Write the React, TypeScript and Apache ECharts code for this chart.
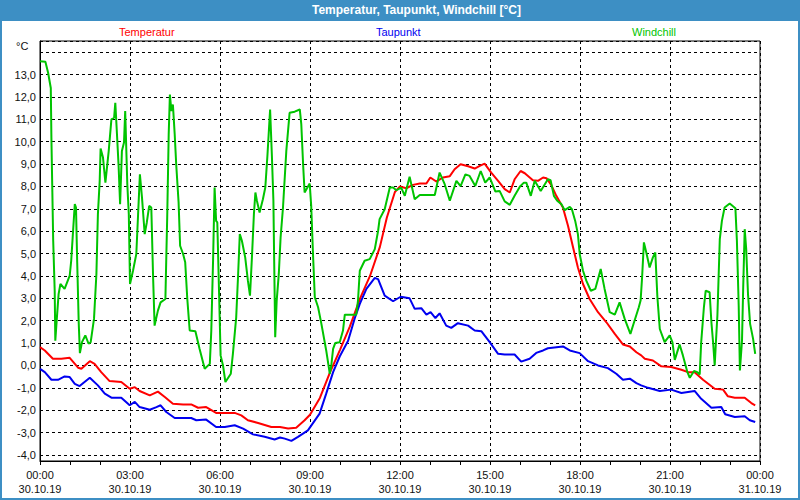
import React, { useEffect, useRef } from 'react';
import * as echarts from 'echarts';

const FONT = 'Liberation Sans';

const titleText = 'Temperatur, Taupunkt, Windchill [°C]';
const seriesNames = ['Temperatur', 'Taupunkt', 'Windchill'];
const seriesColors = ['#ff0000', '#0000f0', '#00c400'];
const timeLabels = ['00:00', '03:00', '06:00', '09:00', '12:00', '15:00', '18:00', '21:00', '00:00'];
const dateLabels = ['30.10.19', '30.10.19', '30.10.19', '30.10.19', '30.10.19', '30.10.19', '30.10.19', '30.10.19', '31.10.19'];
const yUnit = '°C';

// hours since 30.10.19 00:00
const tempTimes = [0, 0.16, 0.43, 0.71, 0.99, 1.27, 1.38, 1.66, 1.82, 2.04, 2.32, 2.71, 2.99, 3.16, 3.32, 3.66, 3.93, 4.16, 4.43, 4.77, 5.04, 5.27, 5.54, 5.87, 6.49, 6.71, 6.93, 7.27, 7.71, 8.0, 8.27, 8.54, 8.82, 9.0, 9.33, 9.67, 10.0, 10.33, 10.67, 11.0, 11.33, 11.56, 11.83, 12.0, 12.21, 12.43, 12.66, 12.88, 13.01, 13.21, 13.43, 13.66, 13.82, 14.02, 14.27, 14.49, 14.66, 14.82, 15.04, 15.27, 15.49, 15.66, 15.82, 16.02, 16.16, 16.43, 16.6, 16.77, 16.88, 17.04, 17.21, 17.43, 17.6, 17.77, 17.93, 18.1, 18.32, 18.6, 18.88, 19.16, 19.43, 19.66, 19.88, 20.04, 20.16, 20.43, 20.71, 21.04, 21.38, 21.6, 21.82, 22.1, 22.49, 22.77, 22.93, 23.16, 23.49, 23.71, 23.84];
const tempValues = [0.82, 0.67, 0.3, 0.3, 0.34, -0.1, -0.15, 0.19, 0.07, -0.3, -0.7, -0.74, -1.04, -0.97, -1.14, -1.34, -1.17, -1.41, -1.71, -1.74, -1.74, -1.89, -1.86, -2.12, -2.12, -2.23, -2.45, -2.57, -2.75, -2.75, -2.82, -2.78, -2.45, -2.2, -1.45, -0.3, 0.7, 1.75, 3.0, 4.0, 5.3, 6.6, 7.75, 8.0, 7.92, 8.07, 8.13, 8.13, 8.4, 8.22, 8.4, 8.46, 8.77, 8.99, 8.9, 8.8, 8.92, 9.02, 8.62, 8.25, 7.88, 7.73, 8.32, 8.69, 8.59, 8.28, 8.25, 8.4, 8.37, 8.07, 7.58, 7.06, 6.24, 5.27, 4.38, 3.64, 2.97, 2.38, 1.93, 1.41, 0.94, 0.85, 0.59, 0.45, 0.3, 0.22, -0.04, -0.07, -0.19, -0.3, -0.3, -0.64, -1.04, -1.08, -1.38, -1.44, -1.44, -1.68, -1.78];

const dewTimes = [0, 0.16, 0.38, 0.6, 0.82, 0.99, 1.16, 1.32, 1.66, 1.93, 2.16, 2.38, 2.71, 2.99, 3.16, 3.32, 3.66, 3.88, 4.02, 4.21, 4.49, 5.04, 5.21, 5.54, 5.87, 6.16, 6.49, 6.77, 7.1, 7.49, 7.82, 8.0, 8.16, 8.38, 8.6, 8.93, 9.32, 9.54, 9.77, 9.99, 10.27, 10.49, 10.66, 10.88, 11.16, 11.27, 11.49, 11.77, 12.02, 12.32, 12.49, 12.71, 12.88, 13.02, 13.18, 13.32, 13.54, 13.71, 13.93, 14.27, 14.49, 14.71, 14.99, 15.27, 15.49, 15.82, 16.04, 16.32, 16.54, 16.77, 16.93, 17.43, 17.66, 17.99, 18.27, 18.6, 18.93, 19.21, 19.43, 19.66, 19.88, 20.04, 20.27, 20.66, 21.04, 21.38, 21.82, 22.04, 22.38, 22.71, 22.84, 23.16, 23.49, 23.66, 23.84];
const dewValues = [-0.15, -0.3, -0.64, -0.64, -0.49, -0.52, -0.82, -0.92, -0.55, -0.89, -1.26, -1.44, -1.44, -1.78, -1.63, -1.86, -1.98, -1.86, -1.78, -2.08, -2.35, -2.35, -2.45, -2.42, -2.75, -2.75, -2.67, -2.82, -3.08, -3.19, -3.31, -3.22, -3.27, -3.37, -3.19, -2.9, -2.15, -1.26, -0.3, 0.4, 1.1, 2.1, 2.75, 3.42, 3.91, 3.86, 3.12, 2.87, 3.07, 3.0, 2.53, 2.56, 2.27, 2.38, 2.12, 2.33, 1.78, 1.68, 1.89, 1.78, 1.56, 1.53, 1.04, 0.52, 0.49, 0.49, 0.17, 0.3, 0.56, 0.67, 0.77, 0.85, 0.67, 0.55, 0.19, 0.0, -0.12, -0.37, -0.64, -0.59, -0.79, -0.89, -1.0, -1.14, -1.08, -1.23, -1.14, -1.49, -1.89, -1.86, -2.18, -2.3, -2.27, -2.45, -2.53];

const windTimes = [0, 0.18, 0.27, 0.36, 0.38, 0.41, 0.44, 0.49, 0.51, 0.56, 0.62, 0.68, 0.82, 0.99, 1.04, 1.11, 1.16, 1.2, 1.24, 1.29, 1.33, 1.4, 1.51, 1.62, 1.69, 1.8, 1.88, 1.93, 1.99, 2.02, 2.1, 2.18, 2.29, 2.38, 2.47, 2.51, 2.56, 2.62, 2.67, 2.73, 2.8, 2.84, 2.91, 2.96, 3.0, 3.1, 3.21, 3.27, 3.33, 3.4, 3.49, 3.56, 3.64, 3.71, 3.77, 3.82, 3.93, 4.02, 4.18, 4.21, 4.24, 4.29, 4.33, 4.38, 4.43, 4.49, 4.54, 4.62, 4.67, 4.77, 4.84, 4.91, 4.99, 5.18, 5.32, 5.49, 5.66, 5.71, 5.77, 5.82, 5.87, 5.91, 5.97, 6.02, 6.1, 6.18, 6.36, 6.43, 6.54, 6.6, 6.66, 6.73, 6.84, 6.93, 7.0, 7.07, 7.13, 7.18, 7.23, 7.32, 7.43, 7.51, 7.58, 7.67, 7.73, 7.78, 7.8, 7.82, 7.84, 7.89, 7.96, 8.02, 8.1, 8.21, 8.32, 8.49, 8.66, 8.71, 8.77, 8.82, 8.99, 9.04, 9.1, 9.16, 9.27, 9.38, 9.54, 9.66, 9.71, 9.77, 9.84, 9.99, 10.1, 10.16, 10.54, 10.6, 10.66, 10.82, 10.99, 11.16, 11.27, 11.32, 11.49, 11.66, 11.77, 11.88, 12.04, 12.16, 12.32, 12.49, 12.66, 13.16, 13.32, 13.49, 13.66, 13.88, 14.02, 14.18, 14.32, 14.51, 14.69, 14.84, 14.99, 15.18, 15.32, 15.49, 15.66, 15.82, 16.0, 16.13, 16.21, 16.36, 16.49, 16.69, 16.93, 17.02, 17.13, 17.24, 17.38, 17.49, 17.66, 17.73, 17.84, 17.93, 17.99, 18.1, 18.21, 18.36, 18.51, 18.69, 18.82, 18.99, 19.16, 19.32, 19.49, 19.68, 19.82, 19.96, 20.02, 20.07, 20.13, 20.21, 20.32, 20.43, 20.51, 20.58, 20.66, 20.82, 20.99, 21.08, 21.16, 21.32, 21.43, 21.58, 21.66, 21.8, 21.91, 21.99, 22.04, 22.13, 22.19, 22.32, 22.38, 22.44, 22.49, 22.53, 22.58, 22.66, 22.73, 22.82, 22.99, 23.18, 23.23, 23.29, 23.33, 23.4, 23.44, 23.49, 23.54, 23.6, 23.67, 23.77, 23.84];
const windValues = [13.6, 13.57, 13.08, 12.4, 10.18, 7.88, 5.57, 3.34, 1.11, 2.08, 3.19, 3.64, 3.42, 4.01, 4.68, 6.17, 7.21, 7.06, 4.61, 1.93, 0.55, 1.04, 1.34, 0.97, 1.04, 2.08, 4.09, 6.76, 8.25, 9.7, 9.29, 8.17, 9.58, 11.0, 11.07, 11.74, 10.48, 8.92, 7.21, 9.58, 9.96, 11.37, 8.1, 6.76, 3.64, 4.23, 4.98, 6.76, 8.54, 7.5, 5.87, 6.39, 7.13, 7.06, 3.94, 1.78, 2.45, 2.82, 2.97, 4.83, 6.61, 10.33, 12.11, 11.37, 11.66, 10.33, 8.99, 7.28, 5.35, 4.98, 4.61, 2.97, 1.56, 1.53, 0.74, -0.15, 0.07, 1.56, 4.75, 7.95, 6.46, 6.39, 3.19, 0.45, 0.0, -0.74, -0.37, 0.52, 2.15, 3.94, 5.87, 5.57, 4.83, 3.79, 3.12, 4.98, 6.76, 7.73, 7.36, 6.84, 7.43, 7.95, 9.36, 11.44, 9.36, 7.36, 5.27, 3.34, 1.26, 2.9, 4.09, 5.72, 7.06, 9.58, 11.29, 11.34, 11.44, 10.77, 8.99, 7.73, 8.13, 7.13, 4.98, 3.05, 2.6, 1.86, 0.67, -0.37, 0.0, 0.74, 1.0, 1.04, 1.56, 2.27, 2.27, 2.9, 4.23, 4.68, 4.75, 5.2, 6.02, 6.54, 6.98, 7.95, 7.95, 7.83, 7.95, 7.58, 8.43, 7.43, 7.62, 7.62, 8.62, 8.1, 7.36, 8.25, 8.01, 8.54, 8.47, 8.02, 8.69, 8.17, 8.4, 7.77, 7.8, 7.33, 7.18, 7.58, 8.0, 8.17, 8.17, 7.58, 8.25, 7.8, 8.32, 8.28, 7.58, 7.36, 7.21, 6.94, 7.09, 6.98, 6.46, 5.87, 4.98, 4.23, 3.79, 3.34, 3.42, 4.31, 3.42, 2.38, 2.27, 2.82, 2.08, 1.41, 2.01, 2.6, 2.9, 3.94, 5.5, 5.05, 4.38, 4.83, 5.05, 3.05, 1.63, 1.04, 1.34, 1.04, 0.25, 0.94, 0.45, -0.3, -0.55, -0.25, -0.3, -0.4, 1.04, 2.6, 3.34, 3.27, 1.93, 0.97, 0.0, 1.04, 2.23, 5.65, 6.46, 7.06, 7.24, 7.03, 5.57, 2.67, -0.22, 1.11, 3.49, 6.09, 5.2, 3.19, 1.86, 1.19, 0.52];

const pairs = (t: number[], v: number[]) => t.map((x, i) => [x, v[i]]);

export default function App() {
  const ref = useRef<HTMLDivElement>(null);
  useEffect(() => {
    const chart = echarts.init(ref.current as HTMLDivElement, null, { renderer: 'svg' });
    const legendLefts = [114, 371, 627];
    chart.setOption({
      animation: false,
      backgroundColor: '#ffffff',
      textStyle: { fontFamily: FONT },
      title: {
        text: titleText,
        left: 312,
        top: 4,
        padding: 0,
        textStyle: { color: '#ffffff', fontSize: 12, fontWeight: 'bold', fontFamily: FONT },
      },
      legend: seriesNames.map((n, i) => ({
        data: [n],
        left: legendLefts[i],
        top: 25,
        padding: 0,
        icon: 'none',
        itemWidth: 0,
        itemHeight: 14,
        selectedMode: false,
        textStyle: { color: seriesColors[i], fontSize: 11, fontFamily: FONT },
      })),
      graphic: [
        { type: 'rect', z: 0, shape: { x: 0, y: 0, width: 800, height: 21 }, style: { fill: '#3d8fc4' } },
        { type: 'rect', z: 0, shape: { x: 1, y: 1, width: 798, height: 498 }, style: { fill: 'none', stroke: '#3d8fc4', lineWidth: 2 } },
        { type: 'text', left: 16, top: 40, style: { text: yUnit, fill: '#111', font: `11px "${FONT}"` } },
      ],
      grid: {
        left: 40, top: 41, width: 720, height: 420,
        show: true, borderColor: '#000', borderWidth: 1, backgroundColor: '#ffffff',
      },
      xAxis: {
        type: 'value', min: 0, max: 24, interval: 3,
        axisLine: { onZero: false, lineStyle: { color: '#000', width: 1 } },
        axisTick: { show: true, length: 4, lineStyle: { color: '#000' } },
        minorTick: { show: true, splitNumber: 3, length: 4, lineStyle: { color: '#000' } },
        splitLine: { show: true, lineStyle: { color: '#000', type: [3, 3], width: 1 } },
        axisLabel: {
          margin: 7, color: '#111', fontSize: 11, lineHeight: 14, fontFamily: FONT,
          formatter: (v: number) => {
            const i = Math.round(v / 3);
            return `${timeLabels[i]}\n${dateLabels[i]}`;
          },
        },
      },
      yAxis: {
        type: 'value', min: -4.27, max: 14.5, minInterval: 1, maxInterval: 1,
        axisLine: { show: true, onZero: false, lineStyle: { color: '#000' } },
        axisTick: { show: false },
        splitLine: { show: true, lineStyle: { color: '#000', type: [3, 3], width: 1 } },
        axisLabel: {
          margin: 4, color: '#111', fontSize: 11, fontFamily: FONT,
          showMinLabel: false, showMaxLabel: false,
          formatter: (v: number) => {
            if (Math.abs(v - Math.round(v)) > 1e-6 || Math.round(v) >= 14) return '';
            return v.toFixed(1).replace('.', ',');
          },
        },
      },
      series: [
        { name: seriesNames[0], type: 'line', data: pairs(tempTimes, tempValues), showSymbol: false, symbol: 'none', lineStyle: { color: seriesColors[0], width: 2 }, itemStyle: { color: seriesColors[0] }, z: 3 },
        { name: seriesNames[1], type: 'line', data: pairs(dewTimes, dewValues), showSymbol: false, symbol: 'none', lineStyle: { color: seriesColors[1], width: 2 }, itemStyle: { color: seriesColors[1] }, z: 3 },
        { name: seriesNames[2], type: 'line', data: pairs(windTimes, windValues), showSymbol: false, symbol: 'none', lineStyle: { color: seriesColors[2], width: 2 }, itemStyle: { color: seriesColors[2] }, z: 4 },
      ],
    });
    return () => chart.dispose();
  }, []);
  return <div ref={ref} style={{ position: 'fixed', left: 0, top: 0, width: 800, height: 500 }} />;
}
